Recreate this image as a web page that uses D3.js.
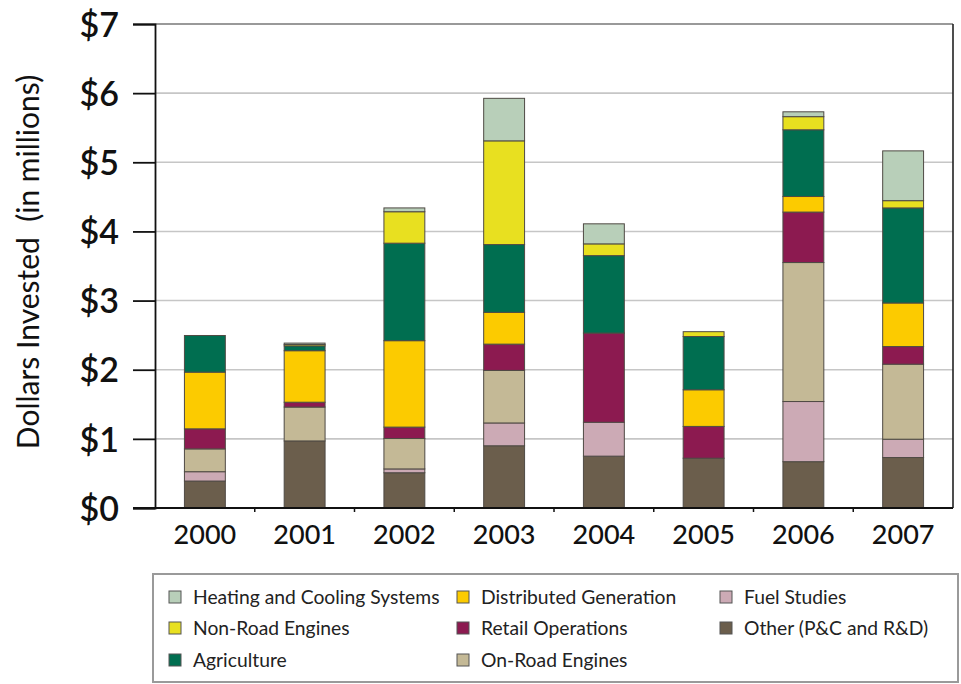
<!DOCTYPE html>
<html><head><meta charset="utf-8">
<script src="https://cdn.jsdelivr.net/npm/d3@7"></script>
<style>body{margin:0;background:#fff}svg{display:block}</style>
</head><body>
<svg id="c" width="961" height="684"></svg>
<script>
const years = ["2000","2001","2002","2003","2004","2005","2006","2007"];
const seriesNames = ["Other (P&C and R&D)","Fuel Studies","On-Road Engines","Retail Operations","Distributed Generation","Agriculture","Non-Road Engines","Heating and Cooling Systems"];
const other   = [0.39, 0.97, 0.51, 0.90, 0.75, 0.72, 0.67, 0.73];
const fuel    = [0.135, 0, 0.055, 0.33, 0.49, 0, 0.87, 0.265];
const onRoad  = [0.33, 0.49, 0.44, 0.76, 0, 0, 2.01, 1.085];
const retail  = [0.29, 0.07, 0.165, 0.38, 1.29, 0.46, 0.73, 0.255];
const distGen = [0.82, 0.745, 1.25, 0.46, 0, 0.53, 0.225, 0.63];
const agri    = [0.53, 0.07, 1.41, 0.98, 1.12, 0.77, 0.965, 1.375];
const nonRoad = [0, 0.02, 0.455, 1.5, 0.17, 0.07, 0.19, 0.105];
const heating = [0, 0.02, 0.055, 0.615, 0.29, 0, 0.07, 0.72];
const yTicks = [0,1,2,3,4,5,6,7];
const yTickLabels = ["$0","$1","$2","$3","$4","$5","$6","$7"];
const colors = ["#6b5e4c","#ccaab5","#c4b996","#8c1a50","#fccb00","#006e50","#e8e020","#b8cfb9"];
const legendOrder = [
  ["Heating and Cooling Systems","Non-Road Engines","Agriculture"],
  ["Distributed Generation","Retail Operations","On-Road Engines"],
  ["Fuel Studies","Other (P&C and R&D)"]
];

const valuesBySeries = [other, fuel, onRoad, retail, distGen, agri, nonRoad, heating];
const table = years.map((y,i)=>{const o={year:y}; seriesNames.forEach((s,k)=>o[s]=valuesBySeries[k][i]); return o;});
const stack = d3.stack().keys(seriesNames)(table);
const color = d3.scaleOrdinal().domain(seriesNames).range(colors);

const svg = d3.select("#c");
const L=155, R=953, T=24, B=508;
const font = "Lato, 'Open Sans', sans-serif";
const x = d3.scaleBand().domain(years).range([L,R]).paddingInner(0.59).paddingOuter(0.295);
const y = d3.scaleLinear().domain([0,7]).range([B,T]);

// gridlines
svg.append("g").selectAll("line").data(yTicks.slice(1,7)).join("line")
  .attr("x1",L).attr("x2",R).attr("y1",d=>y(d)).attr("y2",d=>y(d))
  .attr("stroke","#c6c6c6").attr("stroke-width",1.6);
// top and right frame
svg.append("line").attr("x1",L).attr("x2",R).attr("y1",T).attr("y2",T).attr("stroke","#777").attr("stroke-width",1.6);
svg.append("line").attr("x1",R).attr("x2",R).attr("y1",T).attr("y2",B).attr("stroke","#222").attr("stroke-width",1.6);

// bars
svg.append("g").selectAll("g").data(stack).join("g")
  .attr("fill",d=>color(d.key))
  .selectAll("rect").data(d=>d.filter(p=>p[1]-p[0]>0)).join("rect")
  .attr("x",d=>x(d.data.year)).attr("width",x.bandwidth())
  .attr("y",d=>y(d[1])).attr("height",d=>y(d[0])-y(d[1]))
  .attr("stroke","#4f4a44").attr("stroke-width",1);

// y axis
const yAxis = d3.axisLeft(y).tickValues(yTicks).tickFormat((d,i)=>yTickLabels[i]).tickSize(22).tickPadding(14);
const ga = svg.append("g").attr("transform",`translate(${L},0)`).call(yAxis);
ga.select(".domain").attr("stroke","#111").attr("stroke-width",1.8);
ga.selectAll(".tick line").attr("stroke","#111").attr("stroke-width",1.8);
ga.selectAll("text").attr("font-family",font).attr("font-size",34).attr("font-weight",600).attr("fill","#111").attr("dy","0.36em");

// x axis
const xAxis = d3.axisBottom(x).tickSize(0).tickPadding(14);
const gx = svg.append("g").attr("transform",`translate(0,${B})`).call(xAxis);
gx.select(".domain").remove();
gx.selectAll("text").attr("font-family",font).attr("font-size",27).attr("font-weight",500).attr("fill","#111").attr("dy","0.8em");
svg.append("line").attr("x1",133).attr("x2",R).attr("y1",B).attr("y2",B).attr("stroke","#111").attr("stroke-width",1.8);
svg.append("g").selectAll("line").data(years.slice(1)).join("line")
  .attr("x1",d=>x(d)-x.step()*x.paddingInner()/2).attr("x2",d=>x(d)-x.step()*x.paddingInner()/2)
  .attr("y1",B).attr("y2",B+4).attr("stroke","#111").attr("stroke-width",1.5);

// y title
svg.append("text").attr("transform",`translate(39,${(T+B)/2 - 4}) rotate(-90)`)
  .attr("text-anchor","middle").attr("font-family",font).attr("font-size",30).attr("fill","#111")
  .style("white-space","pre")
  .text("Dollars Invested  (in millions)");

// legend
svg.append("rect").attr("x",153).attr("y",574).attr("width",805).attr("height",108)
  .attr("fill","#fff").attr("stroke","#9a9a9a").attr("stroke-width",2);
const colX = [169, 457, 720];
const rowY = [597, 628, 660];
legendOrder.forEach((col,ci)=>{
  col.forEach((name,ri)=>{
    const g = svg.append("g");
    g.append("rect").attr("x",colX[ci]).attr("y",rowY[ri]-6).attr("width",12).attr("height",12)
      .attr("fill",color(name)).attr("stroke","#555").attr("stroke-width",1);
    g.append("text").attr("x",colX[ci]+24).attr("y",rowY[ri]).attr("dy","0.35em")
      .attr("font-family",font).attr("font-size",19.3).attr("fill","#222").text(name);
  });
});
</script>
</body></html>
